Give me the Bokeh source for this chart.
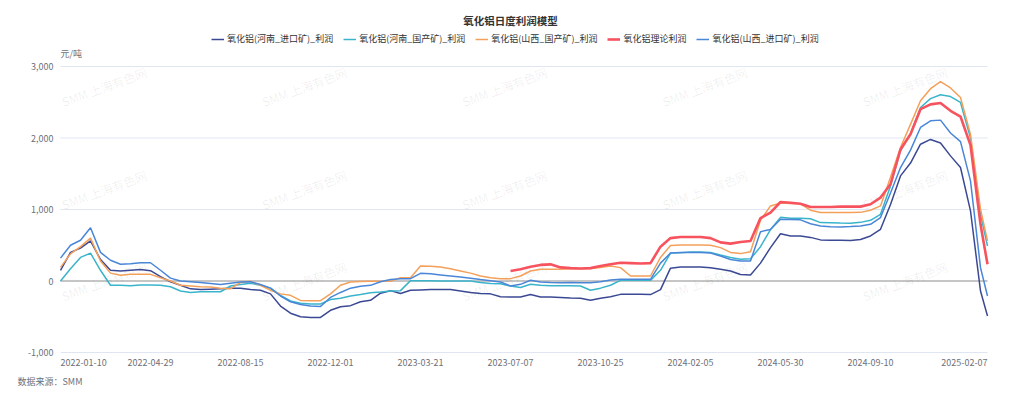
from bokeh.plotting import figure
from bokeh.models import Legend, LegendItem
from bokeh.core.properties import value
from bokeh.embed import file_html
from bokeh.resources import INLINE

nan = float("nan")
FONT = "Noto Sans CJK SC"

# ---------------- data ----------------
title_text = "氧化铝日度利润模型"
unit_text = "元/吨"
source_text = "数据来源：SMM"
watermark_text = "SMM 上海有色网"

# category index of the trading-day axis (sampled)
x_idx = list(range(0, 921, 10)) + [927]

x_tick_pos = [0, 90, 180, 270, 360, 450, 540, 630, 720, 810, 927]
x_tick_labels = ["2022-01-10", "2022-04-29", "2022-08-15", "2022-12-01", "2023-03-21",
                 "2023-07-07", "2023-10-25", "2024-02-05", "2024-05-30", "2024-09-10",
                 "2025-02-07"]
y_ticks = [-1000, 0, 1000, 2000, 3000]

series_names = ["氧化铝(河南_进口矿)_利润", "氧化铝(河南_国产矿)_利润",
                "氧化铝(山西_国产矿)_利润", "氧化铝理论利润", "氧化铝(山西_进口矿)_利润"]

henan_import = [150, 400, 460, 560, 300, 150, 140, 150, 160, 145,
                60, -10, -60, -110, -120, -115, -110, -100, -100, -120,
                -130, -180, -350, -450, -500, -510, -510, -410, -360, -345,
                -290, -270, -170, -135, -175, -130, -125, -120, -120, -120,
                -140, -160, -175, -180, -220, -225, -224, -190, -224, -224,
                -230, -238, -240, -270, -240, -220, -187, -187, -187, -190,
                -120, 180, 195, 196, 196, 185, 163, 140, 90, 84,
                250, 467, 660, 630, 630, 610, 575, 570, 570, 565,
                580, 630, 723, 1070, 1470, 1650, 1913, 1980, 1930, 1750,
                1587, 980, -140, -490]

henan_domestic = [0, 170, 330, 390, 150, -60, -60, -65, -55, -55,
                  -60, -80, -140, -160, -150, -150, -150, -70, -50, -30,
                  -60, -100, -200, -280, -310, -320, -320, -260, -240, -210,
                  -190, -165, -155, -140, -135, 5, 5, 5, 0, 0,
                  0, 0, -20, -35, -37, -70, -90, -45, -60, -65,
                  -65, -65, -70, -130, -100, -60, 9, 9, 9, 9,
                  150, 390, 395, 405, 405, 400, 364, 330, 303, 310,
                  480, 720, 890, 877, 877, 870, 817, 815, 810, 807,
                  820, 849, 933, 1330, 1820, 2060, 2427, 2550, 2605, 2580,
                  2497, 2000, 933, 490]

shanxi_domestic = [190, 380, 480, 600, 280, 110, 80, 93, 93, 93,
                   45, 0, -60, -70, -80, -85, -100, -110, -20, -5,
                   -60, -130, -180, -200, -271, -275, -275, -180, -60, -14,
                   -8, -5, -5, -5, 47, 47, 210, 205, 195, 170,
                   140, 110, 70, 45, 33, 33, 70, 140, 163, 163,
                   163, 173, 173, 175, 190, 210, 187, 70, 70, 70,
                   330, 495, 503, 503, 503, 500, 467, 400, 383, 410,
                   850, 1050, 1090, 1085, 1080, 990, 957, 957, 957, 957,
                   960, 989, 1050, 1450, 1867, 2190, 2520, 2690, 2790, 2700,
                   2567, 2050, 1003, 560]

theory = [nan] * 45 + [140, 165, 200, 225, 233, 190, 180, 175, 180, 210,
                       235, 255, 250, 245, 250, 480, 600, 616, 616, 616,
                       600, 540, 523, 545, 560, 880, 957, 1105, 1095, 1080,
                       1036, 1036, 1036, 1040, 1040, 1040, 1073, 1167, 1353, 1840,
                       2053, 2403, 2470, 2490, 2380, 2300, 1900, 793, 233]

shanxi_import = [320, 500, 570, 745, 400, 290, 235, 240, 255, 255,
                 150, 40, 0, -10, -20, -35, -50, -30, -14, -10,
                 -50, -100, -210, -290, -330, -350, -355, -230, -160, -100,
                 -75, -61, -10, 20, 33, 33, 107, 100, 85, 70,
                 55, 40, 20, 5, -14, -70, -47, 10, -14, -20,
                 -25, -20, -25, -25, -10, 15, 23, 23, 23, 23,
                 250, 390, 400, 397, 397, 390, 350, 300, 280, 280,
                 690, 720, 863, 860, 855, 800, 770, 760, 755, 761,
                 770, 793, 887, 1230, 1587, 1830, 2147, 2240, 2250, 2070,
                 1950, 1400, 187, -210]

series_values = [henan_import, henan_domestic, shanxi_domestic, theory, shanxi_import]
series_colors = ["#3B4994", "#3AB4CB", "#F4A05A", "#F7535F", "#4A86D8"]
series_widths = [1.5, 1.5, 1.5, 2.6, 1.5]

# ---------------- layout (pixels) ----------------
W, H = 1020, 396
L, R, T, B = 60, 987, 66, 352          # plot area inside the canvas

x_min, x_max = x_tick_pos[0], x_tick_pos[-1]
y_min, y_max = y_ticks[0], y_ticks[-1]
sx = (x_max - x_min) / (R - L)          # data units per pixel
sy = (y_max - y_min) / (B - T)

p = figure(width=W, height=H,
           x_range=(x_min - L * sx, x_max + (W - R) * sx),
           y_range=(y_min - (H - B) * sy, y_max + T * sy),
           output_backend="svg", toolbar_location=None,
           x_axis_location=None, y_axis_location=None, min_border=0)
p.title.visible = False
p.outline_line_color = None
p.background_fill_color = "white"
p.border_fill_color = "white"
p.grid.visible = False

LABEL_COLOR = "#6E7079"

# horizontal grid lines at the y ticks (the 0 line is the darker category axis)
grid_vals = [t for t in y_ticks if t != 0]
p.segment(x0=[x_min] * len(grid_vals), x1=[x_max] * len(grid_vals), y0=grid_vals, y1=grid_vals,
          line_color="#E0E6F1", line_width=1)
p.segment(x0=[x_min], x1=[x_max], y0=[0], y1=[0], line_color="#8C8C8C", line_width=1)

# y tick labels
p.text(x=[x_min - 7 * sx] * len(y_ticks), y=y_ticks, text=[f"{t:,}" for t in y_ticks],
       text_align="right", text_baseline="middle", text_font=value(FONT),
       text_font_size="9px", text_color=LABEL_COLOR)

# x tick labels (first label left-aligned, last right-aligned, like the reference)
lab_y = y_min - 10 * sy
p.text(x=x_tick_pos[1:-1], y=[lab_y] * (len(x_tick_pos) - 2), text=x_tick_labels[1:-1],
       text_align="center", text_baseline="middle", text_font=value(FONT),
       text_font_size="9px", text_color=LABEL_COLOR)
p.text(x=[x_tick_pos[0]], y=[lab_y], text=[x_tick_labels[0]],
       text_align="left", text_baseline="middle", text_font=value(FONT),
       text_font_size="9px", text_color=LABEL_COLOR)
p.text(x=[x_tick_pos[-1]], y=[lab_y], text=[x_tick_labels[-1]],
       text_align="right", text_baseline="middle", text_font=value(FONT),
       text_font_size="9px", text_color=LABEL_COLOR)

# watermarks
wm_x = [x_min + (x_max - x_min) * f for f in (0.047, 0.263, 0.479, 0.695, 0.911)]
wm_y = [y_min + (y_max - y_min) * f for f in (0.93, 0.57, 0.25)]
wx, wy = [], []
for yy in wm_y:
    for xx in wm_x:
        wx.append(xx)
        wy.append(yy)
p.text(x=wx, y=wy, text=[watermark_text] * len(wx), angle=0.35,
       text_align="center", text_baseline="middle", text_font=value(FONT),
       text_font_size="12px", text_color="#000000", text_alpha=0.07)

# series
renderers = []
for vals, col, lw in zip(series_values, series_colors, series_widths):
    r = p.line(x=x_idx, y=vals, line_color=col, line_width=lw)
    renderers.append(r)

# legend (frame == canvas, so the location is measured from the canvas' bottom-left)
legend = Legend(items=[LegendItem(label=n, renderers=[r]) for n, r in zip(series_names, renderers)],
                orientation="horizontal", location=(211, H - 45),
                label_text_font=FONT, label_text_font_size="9px", label_text_color="#333333",
                glyph_width=13, glyph_height=12, label_height=12, label_standoff=3,
                spacing=10, padding=0, margin=0,
                border_line_alpha=0, background_fill_alpha=0)
p.add_layout(legend)

# title, unit and source
p.text(x=[x_min + (W / 2 - L) * sx], y=[y_max + 46 * sy], text=[title_text],
       text_align="center", text_baseline="middle", text_font=value(FONT),
       text_font_size="10.5px", text_font_style="bold", text_color="#333333")
p.text(x=[x_min], y=[y_max + 13 * sy], text=[unit_text],
       text_align="left", text_baseline="middle", text_font=value(FONT),
       text_font_size="9px", text_color=LABEL_COLOR)
p.text(x=[x_min - 43 * sx], y=[y_min - 29 * sy], text=[source_text],
       text_align="left", text_baseline="middle", text_font=value(FONT),
       text_font_size="9px", text_color=LABEL_COLOR)

open("out.html", "w").write(file_html(p, INLINE))
